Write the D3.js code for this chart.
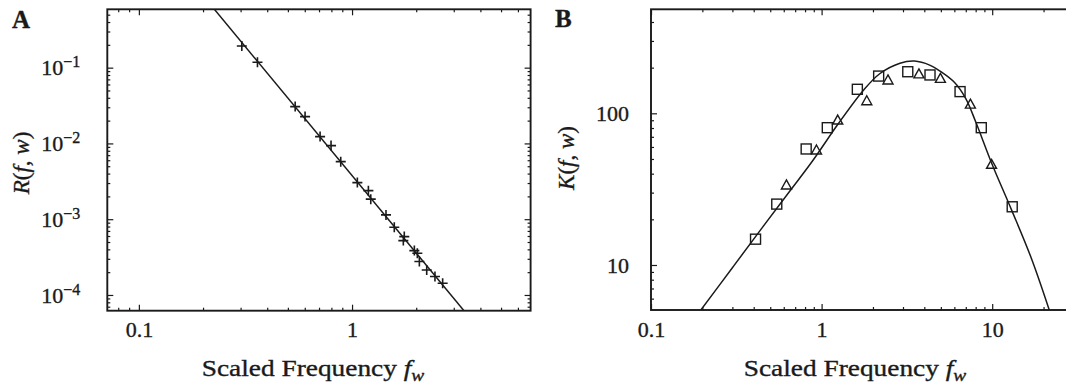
<!DOCTYPE html>
<meta charset="utf-8">
<style>
    body { margin: 0; background: #fff; overflow: hidden; }
    svg { display: block; }
    text { font-family: "Liberation Serif", "Times New Roman", serif; fill: #1a1a1a; stroke: #1a1a1a; stroke-width: 0.35; }
    .tick line { stroke: #1a1a1a; stroke-width: 1.2; }
</style>
<svg id="canvas" width="1066" height="384"></svg>
<script src="https://d3js.org/d3.v7.min.js"></script>
<script>

    // panel A : R(f,w) against scaled frequency
    var freqA = [0.304, 0.360, 0.541, 0.602, 0.708, 0.797, 0.885, 1.059, 1.193, 1.224,
                 1.443, 1.578, 1.758, 1.740, 1.960, 2.024, 2.069, 2.240, 2.449, 2.661];
    var ratioA = [0.193, 0.118, 0.0306, 0.0226, 0.0123, 0.00936, 0.00575, 0.00304, 0.00238, 0.00184,
                  0.00114, 0.000783, 0.000589, 0.000522, 0.000385, 0.000356, 0.000276, 0.000214, 0.000175, 0.000143];
    var fitFreqA = [0.226, 3.35];
    var fitRatioA = [0.589, 0.000062];
    var xDomainA = [0.0711, 6.88];
    var yDomainA = [0.589, 0.000062];
    var xTicksA = [0.1, 1];
    var yTicksA = [1e-1, 1e-2, 1e-3, 1e-4];

    // panel B : K(f,w), two data sets and the fitted curve
    var sqFreqB = [0.410, 0.546, 0.812, 1.08, 1.62, 2.16, 3.20, 4.32, 6.48, 8.63, 13.1];
    var sqKB    = [14.8, 25.2, 58.2, 80.4, 144, 176, 188, 179, 139, 80.4, 24.2];
    var triFreqB = [0.622, 0.933, 1.243, 1.84, 2.45, 3.72, 4.97, 7.45, 9.91];
    var triKB    = [33.7, 57.3, 90.3, 121, 166, 182, 170, 115, 46.1];
    var fitFreqB = [0.196, 0.3, 0.45, 0.65, 0.893, 1.24, 1.76, 2.2, 2.88, 3.5, 4.3, 5.0, 6.0, 7.0, 8.0, 10, 13, 17, 21.6];
    var fitKB    = [5.05, 9.6, 17.7, 30.6, 49.2, 84, 142, 183, 214, 221, 208, 188, 160, 125, 88, 46, 23, 11, 5.05];
    var xDomainB = [0.1, 30];
    var yDomainB = [485, 5.05];
    var xTicksB = [0.1, 1, 10];
    var yTicksB = [10, 100];

    var ink = "#1a1a1a";
    var svg = d3.select("#canvas");
    svg.append("rect").attr("width", 1066).attr("height", 384).attr("fill", "#fff");

    function minorTicks(domain) {
        var lo = Math.min(domain[0], domain[1]), hi = Math.max(domain[0], domain[1]);
        var out = [];
        for (var e = Math.floor(Math.log10(lo)); e <= Math.ceil(Math.log10(hi)); e++) {
            for (var m = 2; m <= 9; m++) {
                var v = m * Math.pow(10, e);
                if (v > lo && v < hi) out.push(v);
            }
        }
        return out;
    }

    function drawPanel(x, y, xTicks, yTicks, xFmt, yFmt, yPad, id) {
        var r = x.range(), t = y.range();
        var g = svg.append("g");

        g.append("clipPath").attr("id", id)
          .append("rect").attr("x", r[0]).attr("y", t[0])
          .attr("width", r[1] - r[0]).attr("height", t[1] - t[0]);

        var sides = [
            [d3.axisBottom, x, 0, t[1], xTicks, true],
            [d3.axisTop, x, 0, t[0], xTicks, false],
            [d3.axisLeft, y, r[0], 0, yTicks, true],
            [d3.axisRight, y, r[1], 0, yTicks, false]
        ];
        sides.forEach(function(s, i) {
            var horiz = i < 2;
            var scale = s[1];
            // minor ticks
            g.append("g")
              .attr("transform", "translate(" + s[2] + "," + s[3] + ")")
              .call(s[0](scale).tickValues(minorTicks(scale.domain())).tickSize(-3).tickFormat(""))
              .call(function(a) { a.select(".domain").remove(); });
            // major ticks
            var ax = s[0](scale).tickValues(s[4]).tickSize(-6)
                         .tickPadding(horiz ? 11 : yPad)
                         .tickFormat(s[5] ? (horiz ? xFmt : function() { return ""; }) : "");
            var ag = g.append("g")
              .attr("transform", "translate(" + s[2] + "," + s[3] + ")")
              .call(ax)
              .call(function(a) { a.select(".domain").remove(); });
            ag.selectAll("text").attr("font-size", 22).attr("fill", ink).attr("font-family", null);
            if (i == 2) {
                ag.selectAll("text").each(function(d) { yFmt(d3.select(this), d); });
            }
        });

        g.append("rect")
          .attr("x", r[0]).attr("y", t[0])
          .attr("width", r[1] - r[0]).attr("height", t[1] - t[0])
          .attr("fill", "none").attr("stroke", ink).attr("stroke-width", 1.9);
        return g;
    }

    function plainFmt(d) { return d < 1 ? d3.format(".1f")(d) : d3.format("d")(d); }

    function powFmt(sel, d) {
        var e = Math.round(Math.log10(d));
        sel.text("10");
        sel.append("tspan").attr("font-size", 16).attr("dy", "-0.5em").text("\u2212" + Math.abs(e));
    }

    function plainYFmt(sel, d) { sel.text(d3.format("d")(d)); }

    // ---------- panel A ----------
    var xA = d3.scaleLog().domain(xDomainA).range([107.3, 530.6]);
    var yA = d3.scaleLog().domain(yDomainA).range([9.3, 310.7]);
    var gA = drawPanel(xA, yA, xTicksA, yTicksA, plainFmt, powFmt, 27, "clipA");

    gA.append("path")
      .datum(fitFreqA.map(function(f, i) { return [f, fitRatioA[i]]; }))
      .attr("clip-path", "url(#clipA)")
      .attr("fill", "none").attr("stroke", ink).attr("stroke-width", 1.5)
      .attr("d", d3.line().x(function(d) { return xA(d[0]); }).y(function(d) { return yA(d[1]); }));

    gA.append("g").selectAll("path")
      .data(freqA.map(function(f, i) { return [f, ratioA[i]]; }))
      .enter().append("path")
      .attr("transform", function(d) { return "translate(" + xA(d[0]) + "," + yA(d[1]) + ")"; })
      .attr("d", "M-5,0H5M0,-5V5")
      .attr("stroke", ink).attr("stroke-width", 1.6).attr("fill", "none");

    // ---------- panel B ----------
    var xB = d3.scaleLog().domain(xDomainB).range([651, 1073.6]);
    var yB = d3.scaleLog().domain(yDomainB).range([9.3, 310]);
    var gB = drawPanel(xB, yB, xTicksB, yTicksB, plainFmt, plainYFmt, 22, "clipB");

    gB.append("path")
      .datum(fitFreqB.map(function(f, i) { return [f, fitKB[i]]; }))
      .attr("clip-path", "url(#clipB)")
      .attr("fill", "none").attr("stroke", ink).attr("stroke-width", 1.5)
      .attr("d", d3.line().curve(d3.curveCatmullRom)
                   .x(function(d) { return xB(d[0]); }).y(function(d) { return yB(d[1]); }));

    gB.append("g").selectAll("rect")
      .data(sqFreqB.map(function(f, i) { return [f, sqKB[i]]; }))
      .enter().append("rect")
      .attr("x", function(d) { return xB(d[0]) - 5; })
      .attr("y", function(d) { return yB(d[1]) - 5; })
      .attr("width", 10).attr("height", 10)
      .attr("fill", "none").attr("stroke", ink).attr("stroke-width", 1.4);

    gB.append("g").selectAll("path")
      .data(triFreqB.map(function(f, i) { return [f, triKB[i]]; }))
      .enter().append("path")
      .attr("transform", function(d) { return "translate(" + xB(d[0]) + "," + yB(d[1]) + ")"; })
      .attr("d", "M0,-5L5,4H-5Z")
      .attr("fill", "none").attr("stroke", ink).attr("stroke-width", 1.4);

    // ---------- titles ----------
    function xTitle(cx) {
        var t = svg.append("text")
          .attr("transform", "translate(" + cx + ",376) scale(1.14,1)")
          .attr("text-anchor", "middle").attr("font-size", 24);
        t.append("tspan").text("Scaled Frequency ");
        t.append("tspan").attr("font-style", "italic").text("f");
        t.append("tspan").attr("font-style", "italic").attr("font-size", 17).attr("dy", "0.3em").text("w");
    }
    xTitle(313);
    xTitle(855);

    function yTitle(cx, cy, letter) {
        var t = svg.append("text")
          .attr("transform", "translate(" + cx + "," + cy + ") rotate(-90)")
          .attr("text-anchor", "middle").attr("font-size", 23);
        t.append("tspan").attr("font-style", "italic").text(letter);
        t.append("tspan").text("(");
        t.append("tspan").attr("font-style", "italic").text("f");
        t.append("tspan").text(", ");
        t.append("tspan").attr("font-style", "italic").text("w");
        t.append("tspan").text(")");
    }
    yTitle(29, 163, "R");
    yTitle(574, 158, "K");

    svg.append("text").attr("x", 12).attr("y", 28).attr("font-size", 25).attr("font-weight", "bold").text("A");
    svg.append("text").attr("x", 555).attr("y", 27).attr("font-size", 25).attr("font-weight", "bold").text("B");

</script>
